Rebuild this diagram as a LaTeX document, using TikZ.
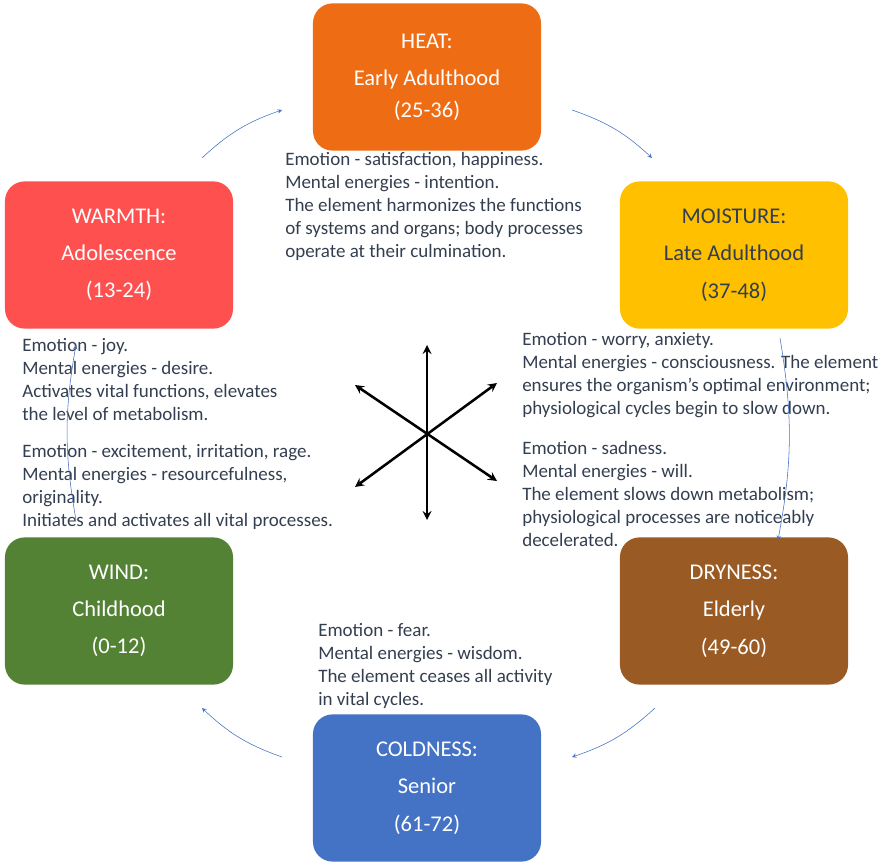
\documentclass[tikz,border=0pt]{standalone}
\usepackage{fontspec}
\setmainfont{Carlito}
\usetikzlibrary{positioning}
\definecolor{heatc}{HTML}{EE6C14}
\definecolor{moistc}{HTML}{FFC000}
\definecolor{warmc}{HTML}{FF5050}
\definecolor{dryc}{HTML}{9A5A24}
\definecolor{windc}{HTML}{548235}
\definecolor{coldc}{HTML}{4472C4}
\definecolor{txtc}{HTML}{333F50}
\definecolor{arrc}{HTML}{4472C4}
\tikzset{
  stage/.style={rounded corners=14pt, minimum width=5.7cm, minimum height=3.68cm,
    align=center, font=\fontsize{16}{22.5}\selectfont, text=white},
  note/.style={anchor=north west, align=left, inner sep=0pt,
    font=\fontsize{13.5}{16.3}\selectfont, text=txtc},
  flow/.style={arrc, thin, ->, >=stealth}
}
\begin{document}
\begin{tikzpicture}[x=0.025cm,y=-0.025cm]
  \useasboundingbox (0,0) rectangle (884,862);
  % stages
  \node[stage, fill=heatc] (heat) at (427,77) {HEAT:\\[4pt]Early Adulthood\\(25-36)};
  \node[stage, fill=moistc, text=txtc] (moist) at (734,255) {MOISTURE:\\[4pt]Late Adulthood\\[4pt](37-48)};
  \node[stage, fill=warmc] (warm) at (119,255) {WARMTH:\\[4pt]Adolescence\\[4pt](13-24)};
  \node[stage, fill=dryc] (dry) at (734,611) {DRYNESS:\\[4pt]Elderly\\[4pt](49-60)};
  \node[stage, fill=windc] (wind) at (119,611) {WIND:\\[4pt]Childhood\\[4pt](0-12)};
  \node[stage, fill=coldc] (cold) at (427,788) {COLDNESS:\\[4pt]Senior\\[4pt](61-72)};
  % notes
  \node[note] (heatn) at (285,152) {Emotion - satisfaction, happiness.\\Mental energies - intention.\\The element harmonizes the functions\\of systems and organs; body processes\\operate at their culmination.};
  \node[note] (moistn) at (522,332) {Emotion - worry, anxiety.\\Mental energies - consciousness. The element\\ensures the organism's optimal environment;\\physiological cycles begin to slow down.};
  \node[note] (warmn) at (22,338) {Emotion - joy.\\Mental energies - desire.\\Activates vital functions, elevates\\the level of metabolism.};
  \node[note] (windn) at (22,444) {Emotion - excitement, irritation, rage.\\Mental energies - resourcefulness,\\originality.\\Initiates and activates all vital processes.};
  \node[note] (dryn) at (522,441) {Emotion - sadness.\\Mental energies - will.\\The element slows down metabolism;\\physiological processes are noticeably\\decelerated.};
  \node[note] (coldn) at (318,623) {Emotion - fear.\\Mental energies - wisdom.\\The element ceases all activity\\in vital cycles.};
  % star
  \coordinate (c) at (427,433);
  \coordinate (s1) at (427,345); \coordinate (s2) at (427,520);
  \coordinate (s3) at (355,385); \coordinate (s4) at (497,481);
  \coordinate (s5) at (355,487); \coordinate (s6) at (497,383);
  \draw[line width=1.8pt, <->, >=stealth] (s1) -- (s2);
  \draw[line width=1.8pt, <->, >=stealth] (s3) -- (s4);
  \draw[line width=1.8pt, <->, >=stealth] (s5) -- (s6);
  % cycle arrows
  \coordinate (a1) at (202,158); \coordinate (b1) at (282,110);
  \coordinate (a2) at (572,110); \coordinate (b2) at (652,158);
  \coordinate (a3) at (780,338); \coordinate (b3) at (778,540);
  \coordinate (a4) at (655,708); \coordinate (b4) at (572,757);
  \coordinate (a5) at (282,757); \coordinate (b5) at (202,708);
  \coordinate (a6) at (76,520); \coordinate (b6) at (76,345);
  \draw[flow] (a1) to[bend left=12] (b1);
  \draw[flow] (a2) to[bend left=12] (b2);
  \draw[flow] (a3) to[bend left=10] (b3);
  \draw[flow] (a4) to[bend left=12] (b4);
  \draw[flow] (a5) to[bend left=12] (b5);
  \draw[flow] (a6) to[bend left=10] (b6);
\end{tikzpicture}
\end{document}
